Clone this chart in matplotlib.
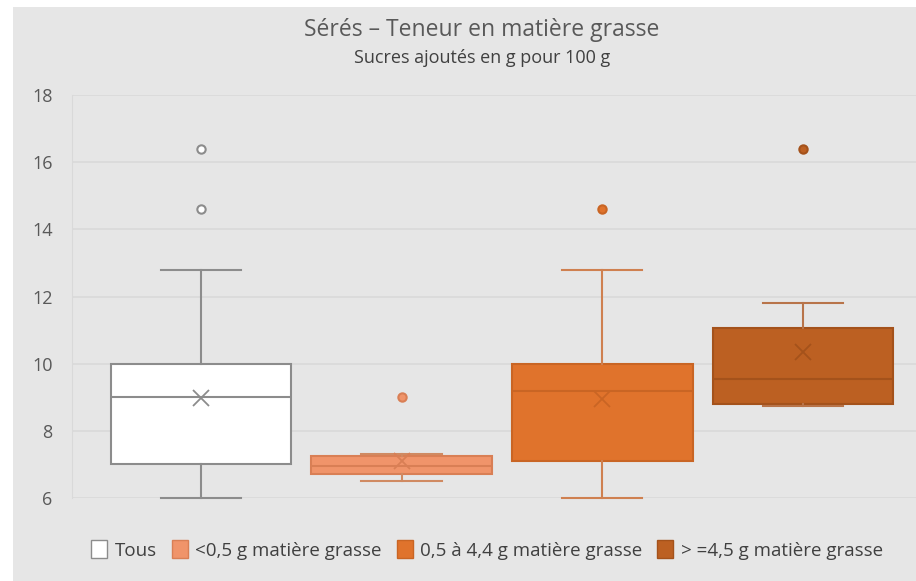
import matplotlib.pyplot as plt
from matplotlib.patches import Patch, Rectangle

plt.rcParams['font.family'] = ['Open Sans', 'DejaVu Sans']

# Statistiques de chaque boîte (sucres ajoutés en g pour 100 g)
groupes = ['Tous', '<0,5 g matière grasse', '0,5 à 4,4 g matière grasse', '> =4,5 g matière grasse']
minimum = [6.0, 6.5, 6.0, 8.75]
q1 = [7.0, 6.7, 7.1, 8.8]
mediane = [9.0, 6.95, 9.2, 9.55]
q3 = [10.0, 7.25, 10.0, 11.05]
maximum = [12.8, 7.3, 12.8, 11.8]
moyenne = [8.97, 7.1, 8.95, 10.35]
aberrants = [[16.4, 14.6], [9.0], [14.6], [16.4]]

remplissage = ['#ffffff', '#f0946a', '#e0732c', '#bc6022']
contour = ['#8c8c8c', '#d97f55', '#c96524', '#a4521b']
traits = ['#8c8c8c', '#d08a62', '#cf8050', '#b8744a']

stats = []
for i in range(len(groupes)):
    stats.append(dict(whislo=minimum[i], q1=q1[i], med=mediane[i], q3=q3[i],
                      whishi=maximum[i], mean=moyenne[i], fliers=aberrants[i]))

W, H = 916, 581
fig = plt.figure(figsize=(W / 100, H / 100), dpi=100)
fig.patch.set_facecolor('white')
fig.patches.append(Rectangle((13 / W, 0), 1, 1 - 7 / H, transform=fig.transFigure,
                             facecolor='#e6e6e6', edgecolor='none', zorder=-10))

ax = fig.add_axes([72 / W, 1 - 498 / H, (916 - 72) / W, (498 - 95) / H])
ax.set_facecolor('none')

for i, s in enumerate(stats):
    ax.bxp([s], positions=[i + 1], widths=0.9, patch_artist=True, showmeans=True,
           boxprops=dict(facecolor=remplissage[i], edgecolor=contour[i], linewidth=1.5),
           medianprops=dict(color=contour[i], linewidth=1.5),
           whiskerprops=dict(color=traits[i], linewidth=1.5),
           capprops=dict(color=traits[i], linewidth=1.5),
           capwidths=0.4,
           meanprops=dict(marker='x', markersize=11, markeredgewidth=1.3,
                          markeredgecolor=contour[i]),
           flierprops=dict(marker='o', markersize=6,
                           markerfacecolor=remplissage[i] if i else '#ffffff',
                           markeredgecolor=contour[i] if i else '#8c8c8c',
                           markeredgewidth=1.5))

for art in ax.get_children():
    try:
        art.set_clip_on(False)
    except AttributeError:
        pass

ax.set_xlim(0.357, 4.564)
ax.set_ylim(6, 18)
ax.set_yticks(range(6, 19, 2))
ax.set_xticks([])
ax.grid(axis='y', color='#d9d9d9', linewidth=1.2)
ax.set_axisbelow(True)
for side in ['top', 'right', 'bottom']:
    ax.spines[side].set_visible(False)
ax.spines['left'].set_color('#d9d9d9')
ax.tick_params(axis='y', length=0, pad=14, labelsize=13, labelcolor='#595959')

fig.text(482 / W, 1 - 30 / H, 'Sérés – Teneur en matière grasse', ha='center', va='center',
         fontsize=16.5, color='#595959')
fig.text(482 / W, 1 - 58 / H, 'Sucres ajoutés en g pour 100 g', ha='center', va='center',
         fontsize=13, color='#404040')

poignees = [Patch(facecolor=remplissage[i], edgecolor=contour[i], linewidth=1)
            for i in range(len(groupes))]
fig.legend(poignees, groupes, loc='center', bbox_to_anchor=(487 / W, 1 - 550 / H), ncol=4,
           frameon=False, fontsize=13.5, labelcolor='#404040', handlelength=0.85,
           handleheight=1.1, handletextpad=0.4, columnspacing=0.8)

fig.savefig('out.png', dpi=100)
